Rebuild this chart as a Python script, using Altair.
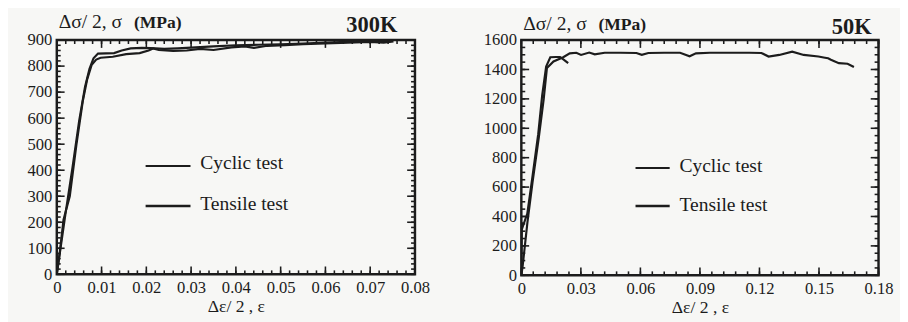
import altair as alt
import pandas as pd
import numpy as np

FONT = "Liberation Serif"
INK = "#1c1c1c"

# ---------------- data ----------------
# 300 K panel
l_cyc_x = [0, 0.0007, 0.0015, 0.0029, 0.0044, 0.0058, 0.0068, 0.0078, 0.0088, 0.0098, 0.0125,
           0.0155, 0.0185, 0.0205, 0.0215, 0.0228, 0.026, 0.029, 0.032, 0.035, 0.039, 0.042,
           0.044, 0.047, 0.051, 0.055, 0.06, 0.065, 0.07, 0.073, 0.0752]
l_cyc_y = [0, 90, 210, 300, 500, 665, 750, 805, 825, 832, 836,
           846, 850, 860, 868, 862, 858, 860, 866, 862, 872, 876,
           870, 878, 880, 884, 887, 890, 893, 890, 895]
l_ten_x = [0, 0.001, 0.002, 0.0035, 0.005, 0.0063, 0.0073, 0.0082, 0.0092, 0.011, 0.0128,
           0.0145, 0.0165, 0.019, 0.021, 0.024, 0.027, 0.031, 0.035, 0.04, 0.045, 0.05,
           0.055, 0.06, 0.065, 0.07, 0.0745]
l_ten_y = [0, 120, 240, 410, 590, 720, 790, 830, 848, 849, 850,
           860, 868, 870, 869, 866, 868, 872, 876, 880, 882, 884,
           887, 890, 893, 896, 896]

# 50 K panel
r_cyc_x = [0, 0.0003, 0.0007, 0.003, 0.0055, 0.0085, 0.0105, 0.0125, 0.0146, 0.0175, 0.0195,
           0.0215, 0.0236]
r_cyc_y = [0, 360, 330, 420, 660, 960, 1223, 1420, 1483, 1485, 1485, 1465, 1443]
r_ten_x = [0, 0.0006, 0.0031, 0.0056, 0.0088, 0.0113, 0.0129, 0.0162, 0.0211, 0.0244, 0.0277,
           0.0301, 0.0342, 0.037, 0.042, 0.05, 0.058, 0.0607, 0.064, 0.072, 0.08, 0.0848,
           0.088, 0.095, 0.105, 0.115, 0.121, 0.1246, 0.13, 0.1365, 0.1423, 0.1497, 0.153,
           0.1546, 0.156, 0.160, 0.1644, 0.1676]
r_ten_y = [0, 55, 364, 628, 937, 1201, 1410, 1455, 1483, 1510, 1514,
           1499, 1515, 1503, 1514, 1514, 1512, 1500, 1512, 1514, 1514, 1490,
           1510, 1514, 1514, 1514, 1512, 1488, 1499, 1521, 1499, 1488, 1480,
           1476, 1466, 1443, 1439, 1417]

legend_labels = ["Cyclic test", "Tensile test"]
y_title_main = "Δσ/ 2,  σ"
y_title_unit = "(MPa)"
x_title = "Δε/ 2 , ε"
temps = ["300K", "50K"]


def panel(cx, cy, tx, ty, xmax, ymax, xmaj, xmin_step, ymaj, ymin_step, W, H, temp,
          leg, title_dy, temp_dx, temp_dy):
    xs = alt.Scale(domain=[0, xmax], nice=False, zero=True)
    ys = alt.Scale(domain=[0, ymax], nice=False, zero=True)
    xmaj_vals = [float(v) for v in np.round(np.arange(0, xmax + 1e-9, xmaj), 4)]
    xmin_vals = [float(v) for v in np.round(np.arange(0, xmax + 1e-9, xmin_step), 4)]
    ymaj_vals = [float(v) for v in np.round(np.arange(0, ymax + 1e-9, ymaj), 4)]
    ymin_vals = [float(v) for v in np.round(np.arange(0, ymax + 1e-9, ymin_step), 4)]

    x_axis = alt.Axis(
        values=xmaj_vals, ticks=False, tickSize=0, domain=False, grid=False,
        labelExpr="datum.value == 0 ? '0' : format(datum.value, '.2f')",
        labelFont=FONT, labelFontSize=17, labelColor=INK, labelPadding=6,
        labelFlush=False, labelOverlap=False,
        title=x_title, titleFont=FONT, titleFontSize=18, titleFontWeight="normal",
        titleColor=INK, titlePadding=2)
    y_axis = alt.Axis(
        values=ymaj_vals, ticks=False, tickSize=0, domain=False, grid=False,
        format="d", labelFont=FONT, labelFontSize=17, labelColor=INK,
        labelFlush=False, labelOverlap=False,
        labelPadding=5, title="")

    df = pd.concat([
        pd.DataFrame({"x": cx, "y": cy, "s": "Cyclic test", "o": range(len(cx))}),
        pd.DataFrame({"x": tx, "y": ty, "s": "Tensile test", "o": range(len(tx))}),
    ])
    lines = alt.Chart(df).mark_line(color=INK, strokeWidth=2.2, clip=True).encode(
        x=alt.X("x:Q", scale=xs, axis=x_axis),
        y=alt.Y("y:Q", scale=ys, axis=y_axis),
        detail="s:N",
        order="o:Q",
    )

    layers = [lines]

    def xticks(vals, L):
        d = alt.Chart(pd.DataFrame({"v": vals}))
        enc_x = alt.X("v:Q", scale=xs, axis=x_axis)
        b = d.mark_rule(color=INK, strokeWidth=1.6).encode(x=enc_x, y=alt.value(H), y2=alt.value(H - L))
        t = d.mark_rule(color=INK, strokeWidth=1.6).encode(x=enc_x, y=alt.value(0), y2=alt.value(L))
        return [b, t]

    def yticks(vals, L):
        d = alt.Chart(pd.DataFrame({"v": vals}))
        enc_y = alt.Y("v:Q", scale=ys, axis=y_axis)
        l = d.mark_rule(color=INK, strokeWidth=1.6).encode(y=enc_y, x=alt.value(0), x2=alt.value(L))
        r = d.mark_rule(color=INK, strokeWidth=1.6).encode(y=enc_y, x=alt.value(W), x2=alt.value(W - L))
        return [l, r]

    layers += xticks(xmin_vals, 4) + xticks(xmaj_vals, 8)
    layers += yticks(ymin_vals, 4) + yticks(ymaj_vals, 8)

    # in-plot legend
    (lx1, lx2, ly1, ly2, tx0, ty1, ty2) = leg
    layers.append(alt.Chart(pd.DataFrame({"a": [0]})).mark_rule(color=INK, strokeWidth=2).encode(
        x=alt.value(lx1), x2=alt.value(lx2), y=alt.value(ly1)))
    layers.append(alt.Chart(pd.DataFrame({"a": [0]})).mark_rule(color=INK, strokeWidth=2.6).encode(
        x=alt.value(lx1), x2=alt.value(lx2), y=alt.value(ly2)))
    layers.append(alt.Chart(pd.DataFrame({"t": [legend_labels[0]]})).mark_text(
        font=FONT, fontSize=20, color=INK, align="left", baseline="middle").encode(
        x=alt.value(tx0), y=alt.value(ty1), text="t:N"))
    layers.append(alt.Chart(pd.DataFrame({"t": [legend_labels[1]]})).mark_text(
        font=FONT, fontSize=20, color=INK, align="left", baseline="middle").encode(
        x=alt.value(tx0), y=alt.value(ty2), text="t:N"))

    # texts above frame
    layers.append(alt.Chart(pd.DataFrame({"t": [y_title_main]})).mark_text(
        font=FONT, fontSize=20, color=INK, align="left", baseline="alphabetic").encode(
        x=alt.value(2), y=alt.value(title_dy), text="t:N"))
    layers.append(alt.Chart(pd.DataFrame({"t": [y_title_unit]})).mark_text(
        font=FONT, fontSize=18, fontWeight="bold", color=INK, align="left",
        baseline="alphabetic").encode(
        x=alt.value(79), y=alt.value(title_dy), text="t:N"))
    layers.append(alt.Chart(pd.DataFrame({"t": [temp]})).mark_text(
        font=FONT, fontSize=23, fontWeight="bold", color=INK, align="right",
        baseline="alphabetic").encode(
        x=alt.value(W - temp_dx), y=alt.value(temp_dy), text="t:N"))

    return alt.layer(*layers).properties(width=W, height=H)


left = panel(l_cyc_x, l_cyc_y, l_ten_x, l_ten_y, 0.08, 900, 0.01, 0.002, 100, 20,
             367, 240, temps[0],
             (91, 137, 129, 170, 147, 126, 168), -12, 18, -8)
right = panel(r_cyc_x, r_cyc_y, r_ten_x, r_ten_y, 0.18, 1600, 0.03, 0.006, 200, 50,
              366, 241, temps[1],
              (117, 152, 131, 170, 162, 129, 169), -10, 7, -6)

chart = alt.hconcat(left, right, spacing=109, bounds="flush").properties(
    padding={"left": 18, "top": -1, "right": 5, "bottom": 0},
    background="#f7f7f5",
).configure_view(stroke=INK, strokeWidth=2.5).configure_concat(
    spacing=109
).configure_axis(labelFont=FONT, titleFont=FONT).configure_text(font=FONT)

chart.save("out.html", embed_options={"renderer": "svg", "actions": False})
